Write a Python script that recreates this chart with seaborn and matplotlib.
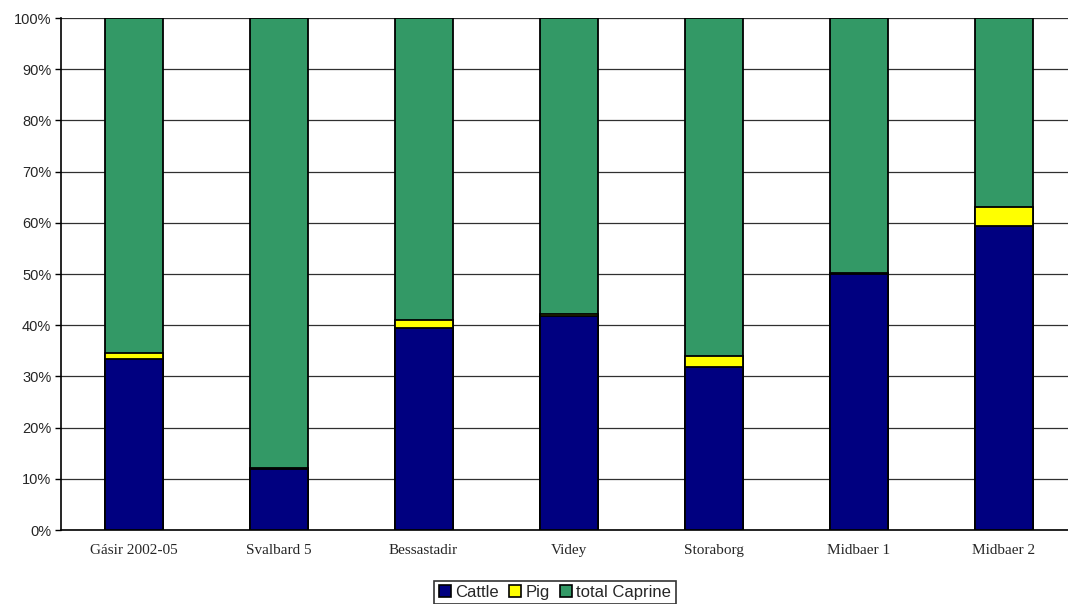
# Stacked percentage bar chart: cattle / pig / caprine by site
import numpy as np
import pandas as pd
import matplotlib
matplotlib.use("Agg")
import matplotlib.pyplot as plt
import seaborn as sns
from matplotlib.patches import Patch

# ----------------------------------------------------------
# Data (percent of assemblage)
# ----------------------------------------------------------
sites = ["Gásir 2002-05", "Svalbard 5", "Bessastadir", "Videy",
         "Storaborg", "Midbaer 1", "Midbaer 2"]
cattle = [33.4, 12.0, 39.5, 41.8, 31.8, 50.0, 59.4]
pig = [1.2, 0.1, 1.5, 0.4, 2.1, 0.1, 3.6]
caprine = [100 - c - p for c, p in zip(cattle, pig)]

df = pd.DataFrame({"site": sites, "Cattle": cattle, "Pig": pig,
                   "total Caprine": caprine})
df["cum_pig"] = df["Cattle"] + df["Pig"]
df["cum_cap"] = df["cum_pig"] + df["total Caprine"]

colors = {"Cattle": "#000080", "Pig": "#FFFF00", "total Caprine": "#339966"}

# ----------------------------------------------------------
# Plot
# ----------------------------------------------------------
sns.set_style("white")
fig = plt.figure(figsize=(10.68, 6.04), dpi=100)
ax = fig.add_axes([61 / 1068, 74 / 604, 1015 / 1068, 512 / 604])

for col, key in [("cum_cap", "total Caprine"), ("cum_pig", "Pig"), ("Cattle", "Cattle")]:
    sns.barplot(data=df, x="site", y=col, color=colors[key], width=0.4,
                edgecolor="black", linewidth=1.3, saturation=1, ax=ax, zorder=3)

ax.set_xlim(-0.5, 6.5)
ax.set_ylim(0, 100)
ax.set_yticks(np.arange(0, 101, 10))
ax.set_yticklabels([f"{v}%" for v in range(0, 101, 10)],
                   fontfamily="Liberation Sans", fontsize=10.5)
ax.set_xticks(range(len(sites)))
ax.set_xticklabels(sites, fontfamily="Liberation Serif", fontsize=11)
ax.tick_params(axis="x", length=0, pad=10)
ax.tick_params(axis="y", length=4, width=1, color="black", direction="out", left=True, pad=3)
ax.yaxis.grid(True, color="#303030", linewidth=0.9, zorder=0)
ax.set_axisbelow(True)
ax.set_xlabel("")
ax.set_ylabel("")
for s in ["top", "right"]:
    ax.spines[s].set_visible(False)
ax.spines["left"].set_color("black")
ax.spines["bottom"].set_color("black")
ax.spines["left"].set_linewidth(1.2)
ax.spines["bottom"].set_linewidth(1.2)

handles = [Patch(facecolor=colors[k], edgecolor="black", linewidth=1.2, label=k)
           for k in ["Cattle", "Pig", "total Caprine"]]
leg = fig.legend(handles=handles, loc="lower center", bbox_to_anchor=(555 / 1068, 0.0),
                 ncol=3, frameon=True, fancybox=False,
                 handlelength=0.75, handleheight=0.75, handletextpad=0.25,
                 columnspacing=0.6, borderpad=0.25, borderaxespad=0.0,
                 prop={"family": "Liberation Sans", "size": 12})
leg.get_frame().set_edgecolor("black")
leg.get_frame().set_linewidth(1.2)

fig.savefig("out.png", dpi=100)
